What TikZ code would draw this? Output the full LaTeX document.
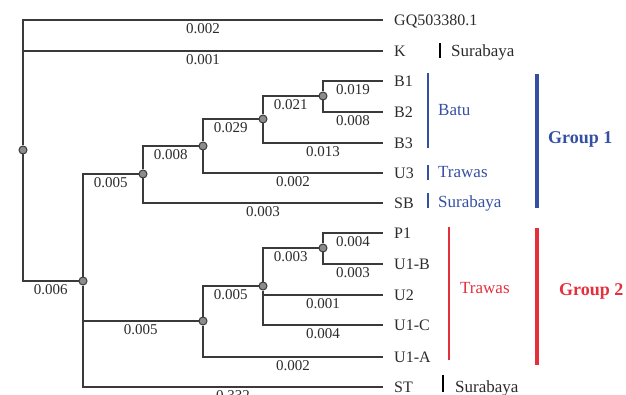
\documentclass[tikz,border=0pt]{standalone}
\usepackage{fontspec}
\setmainfont{Liberation Serif}
\definecolor{treec}{HTML}{3A3A3A}
\definecolor{txtc}{HTML}{2B2B2B}
\definecolor{nodefill}{HTML}{8C8C8C}
\definecolor{gblue}{HTML}{3550A2}
\definecolor{gred}{HTML}{E4303C}
\tikzset{
  branch/.style={draw=treec, line width=1.5pt},
  inode/.style={circle, draw=treec, fill=nodefill, line width=1pt, inner sep=0pt, minimum size=8pt},
  blen/.style={anchor=north, inner sep=0pt, yshift=-2.5pt, text=txtc, font=\fontsize{15}{17}\selectfont},
  leaf/.style={anchor=base west, inner sep=0pt, text=txtc, font=\fontsize{16}{18}\selectfont},
  loc/.style={anchor=base west, inner sep=0pt, font=\fontsize{17}{19}\selectfont},
  grp/.style={anchor=base west, inner sep=0pt, font=\fontsize{18}{20}\bfseries\selectfont},
  thinbar/.style={line width=1.8pt},
  thickbar/.style={line width=3.4pt}
}
\begin{document}
\begin{tikzpicture}[x=1pt,y=-1pt]
\useasboundingbox (0,0) rectangle (626,395);
% internal nodes
\node[inode] (n0) at (23,150) {};
\node[inode] (n1) at (83,281) {};
\node[inode] (n2) at (143,174) {};
\node[inode] (n3) at (203,146) {};
\node[inode] (n4) at (263,119) {};
\node[inode] (n5) at (323,96) {};
\node[inode] (n6) at (203,321) {};
\node[inode] (n7) at (263,286) {};
\node[inode] (n8) at (323,248) {};
% leaf line ends
\coordinate (eGQ) at (383,20);
\coordinate (eK) at (383,51);
\coordinate (eB1) at (383,81);
\coordinate (eB2) at (383,112);
\coordinate (eB3) at (383,143);
\coordinate (eU3) at (383,173);
\coordinate (eSB) at (383,203);
\coordinate (eP1) at (383,233);
\coordinate (eU1B) at (383,264);
\coordinate (eU2) at (383,295);
\coordinate (eU1C) at (383,325);
\coordinate (eU1A) at (383,357);
\coordinate (eST) at (383,387);
% leaf labels
\node[leaf] (lGQ) at (394,25.5) {GQ503380.1};
\node[leaf] (lK) at (394,56.5) {K};
\node[leaf] (lB1) at (394,86.5) {B1};
\node[leaf] (lB2) at (394,117.5) {B2};
\node[leaf] (lB3) at (394,148.5) {B3};
\node[leaf] (lU3) at (394,178.5) {U3};
\node[leaf] (lSB) at (394,208.5) {SB};
\node[leaf] (lP1) at (394,238.5) {P1};
\node[leaf] (lU1B) at (394,269.5) {U1-B};
\node[leaf] (lU2) at (394,300.5) {U2};
\node[leaf] (lU1C) at (394,330.5) {U1-C};
\node[leaf] (lU1A) at (394,362.5) {U1-A};
\node[leaf] (lST) at (394,392.5) {ST};
% branches
\draw[branch] (n0) |- (eGQ) node[blen,pos=0.75] {0.002};
\draw[branch] (n0) |- (eK) node[blen,pos=0.75] {0.001};
\draw[branch] (n0) |- (n1) node[blen,pos=0.75] {0.006};
\draw[branch] (n1) |- (n2) node[blen,pos=0.75] {0.005};
\draw[branch] (n1) |- (n6) node[blen,pos=0.75] {0.005};
\draw[branch] (n1) |- (eST) node[blen,pos=0.75] {0.332};
\draw[branch] (n2) |- (n3) node[blen,pos=0.75] {0.008};
\draw[branch] (n2) |- (eSB) node[blen,pos=0.75] {0.003};
\draw[branch] (n3) |- (n4) node[blen,pos=0.75] {0.029};
\draw[branch] (n3) |- (eU3) node[blen,pos=0.75] {0.002};
\draw[branch] (n4) |- (n5) node[blen,pos=0.75] {0.021};
\draw[branch] (n4) |- (eB3) node[blen,pos=0.75] {0.013};
\draw[branch] (n5) |- (eB1) node[blen,pos=0.75] {0.019};
\draw[branch] (n5) |- (eB2) node[blen,pos=0.75] {0.008};
\draw[branch] (n6) |- (n7) node[blen,pos=0.75] {0.005};
\draw[branch] (n6) |- (eU1A) node[blen,pos=0.75] {0.002};
\draw[branch] (n7) |- (n8) node[blen,pos=0.75] {0.003};
\draw[branch] (n7) |- (eU2) node[blen,pos=0.75] {0.001};
\draw[branch] (n7) |- (eU1C) node[blen,pos=0.75] {0.004};
\draw[branch] (n8) |- (eP1) node[blen,pos=0.75] {0.004};
\draw[branch] (n8) |- (eU1B) node[blen,pos=0.75] {0.003};
% location annotations
\draw[thinbar, black] (440,43) -- (440,58);
\node[loc, text=txtc] (sK) at (451,56.5) {Surabaya};
\draw[thinbar, gblue] (428,73) -- (428,148);
\node[loc, text=gblue] (batu) at (438,115.5) {Batu};
\draw[thinbar, gblue] (428,165) -- (428,180);
\node[loc, text=gblue] (trw1) at (438,178) {Trawas};
\draw[thinbar, gblue] (428,193) -- (428,208);
\node[loc, text=gblue] (sSB) at (438,207.5) {Surabaya};
\draw[thinbar, gred] (449,227) -- (449,360);
\node[loc, text=gred] (trw2) at (460,293.5) {Trawas};
\draw[thinbar, black] (443,375) -- (443,392);
\node[loc, text=txtc] (sST) at (455,392.5) {Surabaya};
% groups
\draw[thickbar, gblue] (537,74) -- (537,208);
\node[grp, text=gblue] (g1) at (548,144) {Group 1};
\draw[thickbar, gred] (537,228) -- (537,365);
\node[grp, text=gred] (g2) at (559,295) {Group 2};
\end{tikzpicture}
\end{document}
